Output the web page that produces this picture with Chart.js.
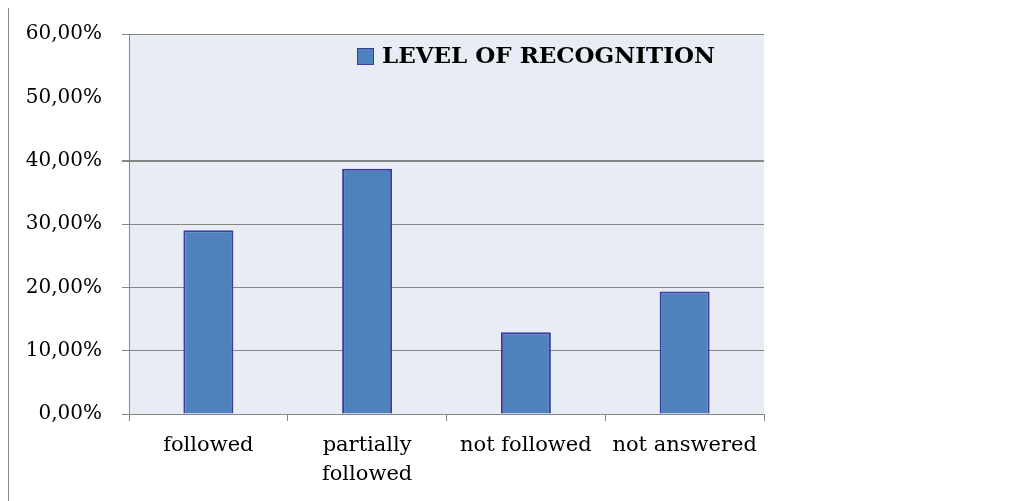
<!DOCTYPE html>
<html>
<head>
<meta charset="utf-8">
<script src="https://cdn.jsdelivr.net/npm/chart.js@4/dist/chart.umd.min.js"></script>
<style>
  html, body { margin: 0; padding: 0; background: #fff; }
  #wrap { width: 1035px; height: 501px; position: relative; }
</style>
</head>
<body>
<div id="wrap"><canvas id="myChart"></canvas></div>
<script>
// data
const categories = ['followed', ['partially', 'followed'], 'not followed', 'not answered'];
const recognition = [0.2903, 0.3871, 0.1290, 0.1935];
const seriesName = 'LEVEL OF RECOGNITION';
const yMax = 0.6;
const yStep = 0.1;

const barFill = '#4F81BD';
const barEdge = '#3A3C9E';
const plotBg = '#E8ECF4';
const lineGray = '#868686';

// plot background + left frame line
const backdrop = {
  id: 'backdrop',
  beforeDraw(chart) {
    const { ctx, chartArea: a } = chart;
    ctx.save();
    ctx.fillStyle = plotBg;
    ctx.fillRect(a.left, a.top, a.right - a.left, a.bottom - a.top);
    ctx.strokeStyle = lineGray;
    ctx.lineWidth = 1;
    ctx.beginPath();
    ctx.moveTo(8.5, 8);
    ctx.lineTo(8.5, chart.height);
    ctx.stroke();
    ctx.restore();
  }
};

// legend drawn inside the plot area like the original
const innerLegend = {
  id: 'innerLegend',
  afterDraw(chart) {
    const { ctx, chartArea: a } = chart;
    const ds = chart.data.datasets[0];
    const x = a.left + 228, y = a.top + 14;
    ctx.save();
    ctx.fillStyle = ds.backgroundColor;
    ctx.fillRect(x, y, 16, 16);
    ctx.strokeStyle = ds.borderColor;
    ctx.lineWidth = 1;
    ctx.strokeRect(x + 0.5, y + 0.5, 16, 16);
    ctx.fillStyle = '#000';
    ctx.font = 'bold 23px "DejaVu Serif"';
    ctx.textBaseline = 'middle';
    ctx.fillText(ds.label, x + 25, y + 9);
    ctx.restore();
  }
};

const ctx = document.getElementById('myChart');
new Chart(ctx, {
  type: 'bar',
  data: {
    labels: categories,
    datasets: [{
      label: seriesName,
      data: recognition,
      backgroundColor: barFill,
      borderColor: barEdge,
      borderWidth: 2,
      barPercentage: 0.315,
      categoryPercentage: 1
    }]
  },
  options: {
    responsive: true,
    maintainAspectRatio: false,
    animation: false,
    layout: { padding: { top: 34, right: 271, left: 0, bottom: 0 } },
    plugins: {
      legend: { display: false },
      tooltip: { enabled: false }
    },
    scales: {
      x: {
        offset: true,
        grid: {
          offset: true,
          drawOnChartArea: false,
          tickLength: 7,
          color: lineGray
        },
        border: { color: lineGray },
        ticks: {
          color: '#000',
          padding: 10,
          maxRotation: 0,
          font: { family: 'DejaVu Serif', size: 21, lineHeight: 1.38 }
        },
        afterFit(scale) { scale.height = 87; }
      },
      y: {
        min: 0,
        max: yMax,
        ticks: {
          stepSize: yStep,
          color: '#000',
          padding: 20,
          font: { family: 'DejaVu Serif', size: 20 },
          callback: v => (v * 100).toFixed(2).replace('.', ',') + '%'
        },
        grid: {
          tickLength: 7,
          color: c => Math.round(c.tick.value * 100) === 50 ? 'rgba(0,0,0,0)' : lineGray,
          lineWidth: c => Math.round(c.tick.value * 100) === 40 ? 2 : 1
        },
        border: { color: lineGray },
        afterFit(scale) { scale.width = 129; }
      }
    }
  },
  plugins: [backdrop, innerLegend]
});
</script>
</body>
</html>
